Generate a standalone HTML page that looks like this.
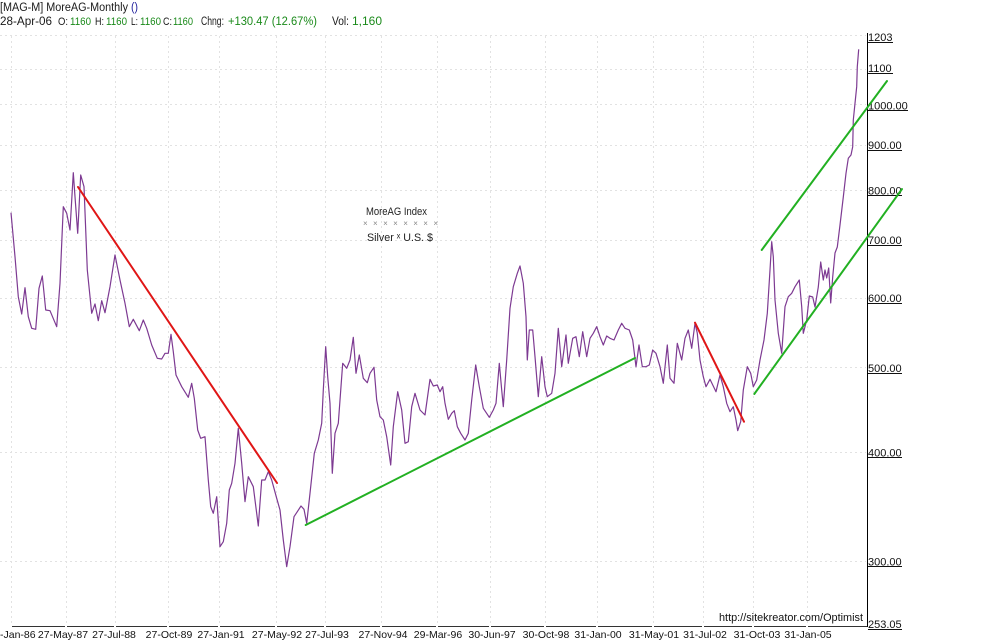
<!DOCTYPE html>
<html>
<head>
<meta charset="utf-8">
<style>
  html, body { margin: 0; padding: 0; background: #ffffff; }
  svg { display: block; }
  text { font-family: "Liberation Sans", Arial, sans-serif; }
</style>
</head>
<body>
<svg width="987" height="642" viewBox="0 0 987 642" xmlns="http://www.w3.org/2000/svg">
  <rect x="0" y="0" width="987" height="642" fill="#ffffff"/>

  <!-- horizontal dotted gridlines -->
  <g stroke="#e2e2e2" stroke-width="1" stroke-dasharray="2,3" fill="none">
    <line x1="0" y1="35.5" x2="866" y2="35.5"/>
    <line x1="0" y1="69.5" x2="866" y2="69.5"/>
    <line x1="0" y1="104.5" x2="866" y2="104.5"/>
    <line x1="0" y1="145.5" x2="866" y2="145.5"/>
    <line x1="0" y1="190.5" x2="866" y2="190.5"/>
    <line x1="0" y1="240.5" x2="866" y2="240.5"/>
    <line x1="0" y1="298.5" x2="866" y2="298.5"/>
    <line x1="0" y1="367.5" x2="866" y2="367.5"/>
    <line x1="0" y1="452.5" x2="866" y2="452.5"/>
    <line x1="0" y1="561.5" x2="866" y2="561.5"/>
  </g>
  <!-- vertical dotted gridlines -->
  <g stroke="#e2e2e2" stroke-width="1" stroke-dasharray="2,3" fill="none">
    <line x1="11.5" y1="36" x2="11.5" y2="625"/>
    <line x1="66.5" y1="36" x2="66.5" y2="625"/>
    <line x1="115.5" y1="36" x2="115.5" y2="625"/>
    <line x1="168.5" y1="36" x2="168.5" y2="625"/>
    <line x1="219.5" y1="36" x2="219.5" y2="625"/>
    <line x1="276.5" y1="36" x2="276.5" y2="625"/>
    <line x1="325.5" y1="36" x2="325.5" y2="625"/>
    <line x1="381.5" y1="36" x2="381.5" y2="625"/>
    <line x1="437.5" y1="36" x2="437.5" y2="625"/>
    <line x1="490.5" y1="36" x2="490.5" y2="625"/>
    <line x1="545.5" y1="36" x2="545.5" y2="625"/>
    <line x1="597.5" y1="36" x2="597.5" y2="625"/>
    <line x1="653.5" y1="36" x2="653.5" y2="625"/>
    <line x1="703.5" y1="36" x2="703.5" y2="625"/>
    <line x1="753.5" y1="36" x2="753.5" y2="625"/>
    <line x1="807.5" y1="36" x2="807.5" y2="625"/>
  </g>

  <!-- header -->
  <g font-size="11.5">
    <text x="0" y="11" fill="#1a1a1a" textLength="128" lengthAdjust="spacingAndGlyphs">[MAG-M] MoreAG-Monthly</text>
    <text x="131" y="11" fill="#1a1a9a" textLength="7" lengthAdjust="spacingAndGlyphs">()</text>
    <text x="0" y="25" fill="#1a1a1a" textLength="52" lengthAdjust="spacingAndGlyphs">28-Apr-06</text>
  </g>
  <g font-size="11">
    <text x="58" y="25" fill="#1a1a1a" textLength="10" lengthAdjust="spacingAndGlyphs">O:</text>
    <text x="70" y="25" fill="#1a8a1a" textLength="21" lengthAdjust="spacingAndGlyphs">1160</text>
    <text x="95" y="25" fill="#1a1a1a" textLength="9" lengthAdjust="spacingAndGlyphs">H:</text>
    <text x="106" y="25" fill="#1a8a1a" textLength="21" lengthAdjust="spacingAndGlyphs">1160</text>
    <text x="131" y="25" fill="#1a1a1a" textLength="7" lengthAdjust="spacingAndGlyphs">L:</text>
    <text x="140" y="25" fill="#1a8a1a" textLength="21" lengthAdjust="spacingAndGlyphs">1160</text>
    <text x="163" y="25" fill="#1a1a1a" textLength="9" lengthAdjust="spacingAndGlyphs">C:</text>
    <text x="173" y="25" fill="#1a8a1a" textLength="20" lengthAdjust="spacingAndGlyphs">1160</text>
  </g>
  <g font-size="11.5">
    <text x="201" y="25" fill="#1a1a1a" textLength="23" lengthAdjust="spacingAndGlyphs">Chng:</text>
    <text x="228" y="25" fill="#1a8a1a" textLength="89" lengthAdjust="spacingAndGlyphs">+130.47 (12.67%)</text>
    <text x="332" y="25" fill="#1a1a1a" textLength="17" lengthAdjust="spacingAndGlyphs">Vol:</text>
    <text x="352" y="25" fill="#1a8a1a" textLength="30" lengthAdjust="spacingAndGlyphs">1,160</text>
  </g>

  <!-- center caption -->
  <text x="366" y="215" font-size="11" fill="#222" textLength="61" lengthAdjust="spacingAndGlyphs">MoreAG Index</text>
  <text x="363" y="226" font-size="8" fill="#888" textLength="75" lengthAdjust="spacing">× × × × × × × ×</text>
  <text x="367" y="241" font-size="11" fill="#222" textLength="66" lengthAdjust="spacingAndGlyphs">Silver ˣ U.S. $</text>

  <!-- axes -->
  <line x1="867.5" y1="33" x2="867.5" y2="627" stroke="#000" stroke-width="1"/>
  <g stroke="#333" stroke-width="1">
    <line x1="12" y1="626.5" x2="65" y2="626.5"/>
    <line x1="67" y1="626.5" x2="114" y2="626.5"/>
    <line x1="116" y1="626.5" x2="167" y2="626.5"/>
    <line x1="169" y1="626.5" x2="218" y2="626.5"/>
    <line x1="220" y1="626.5" x2="275" y2="626.5"/>
    <line x1="277" y1="626.5" x2="324" y2="626.5"/>
    <line x1="326" y1="626.5" x2="380" y2="626.5"/>
    <line x1="382" y1="626.5" x2="436" y2="626.5"/>
    <line x1="438" y1="626.5" x2="489" y2="626.5"/>
    <line x1="491" y1="626.5" x2="544" y2="626.5"/>
    <line x1="546" y1="626.5" x2="596" y2="626.5"/>
    <line x1="598" y1="626.5" x2="652" y2="626.5"/>
    <line x1="654" y1="626.5" x2="702" y2="626.5"/>
    <line x1="704" y1="626.5" x2="752" y2="626.5"/>
    <line x1="754" y1="626.5" x2="806" y2="626.5"/>
    <line x1="808" y1="626.5" x2="867" y2="626.5"/>
  </g>

  <!-- y-axis labels -->
  <g font-size="11" fill="#111">
    <text x="868" y="41">1203</text>
    <text x="868" y="72">1100</text>
    <text x="868" y="109.5">1000.00</text>
    <text x="868" y="149">900.00</text>
    <text x="868" y="194.5">800.00</text>
    <text x="868" y="244">700.00</text>
    <text x="868" y="302">600.00</text>
    <text x="868" y="372">500.00</text>
    <text x="868" y="456.5">400.00</text>
    <text x="868" y="565.5">300.00</text>
    <text x="868" y="628">253.05</text>
  </g>
  <g stroke="#111" stroke-width="1">
    <line x1="868" y1="42.5" x2="893" y2="42.5"/>
    <line x1="868" y1="73.5" x2="893" y2="73.5"/>
    <line x1="868" y1="110.5" x2="908" y2="110.5"/>
    <line x1="868" y1="150.5" x2="902" y2="150.5"/>
    <line x1="868" y1="195.5" x2="902" y2="195.5"/>
    <line x1="868" y1="245.5" x2="902" y2="245.5"/>
    <line x1="868" y1="303.5" x2="902" y2="303.5"/>
    <line x1="868" y1="373.5" x2="902" y2="373.5"/>
    <line x1="868" y1="457.5" x2="902" y2="457.5"/>
    <line x1="868" y1="566.5" x2="902" y2="566.5"/>
    <line x1="868" y1="629.5" x2="902" y2="629.5"/>
  </g>

  <!-- x-axis labels -->
  <g font-size="10.5" fill="#111" text-anchor="middle">
    <text x="0" y="638" text-anchor="start">-Jan-86</text>
    <text x="63" y="638">27-May-87</text>
    <text x="114" y="638">27-Jul-88</text>
    <text x="169" y="638">27-Oct-89</text>
    <text x="221" y="638">27-Jan-91</text>
    <text x="277" y="638">27-May-92</text>
    <text x="327" y="638">27-Jul-93</text>
    <text x="383" y="638">27-Nov-94</text>
    <text x="438" y="638">29-Mar-96</text>
    <text x="492" y="638">30-Jun-97</text>
    <text x="546" y="638">30-Oct-98</text>
    <text x="598" y="638">31-Jan-00</text>
    <text x="654" y="638">31-May-01</text>
    <text x="705" y="638">31-Jul-02</text>
    <text x="757" y="638">31-Oct-03</text>
    <text x="808" y="638">31-Jan-05</text>
  </g>

  <!-- watermark -->
  <text x="719" y="621" font-size="11" fill="#111" textLength="144" lengthAdjust="spacingAndGlyphs">http://sitekreator.com/Optimist</text>

  <!-- price series -->
  <polyline fill="none" stroke="#7d3a92" stroke-width="1.2" stroke-linejoin="round" points="
    11,212.7 15,256.7 18.3,296.7 21.7,314 25,287.7 28.3,316.7 31.7,328.3 35.7,329.3 39,288.3 42.3,276
    45.7,310 50,310.7 56.7,326.7 60,283.3 63.3,206.7 66.7,213.3 70,230 73.3,172.7 75,196.7 77.7,233.3
    80.7,175 84,186.7 87.3,270 91.7,313.3 95,304 98.3,320.7 101.7,300.7 105,312.7 110,286.7 115,255
    120,280 125,303.3 129.3,326.7 133.3,319.3 139.3,330.7 143.3,320 146.7,328.3 151.7,345 157.3,358.3
    161.7,359 165,353.3 168.3,353.3 171,334.3 173.3,351.7 176,375 181.7,386.7 188.3,397.3 191.7,383.3
    194.3,398.3 197.7,430 200.7,438.3 205,436.7 208.3,480 210.7,506.7 213.3,513.3 216.7,496.7 220,546.7
    223.3,541.7 226.7,523.3 229.3,490
    231.7,483.3 235,463.3 238.3,428.3 241.7,463.3 245,501.7 248.3,476.7 253.3,486.7 258.3,526 261.7,480
    265,480 268.3,471.7 271.7,480 276.7,498.3 280,510 283.3,540 286.7,566.7 290,546.7 294,516.7
    297.3,511.7 301,506 304,509.3 306.7,523.3 310,493.3 314.3,453.3 318.3,440 321.7,423.3 323.3,390
    325.7,346.7 327.7,376.7 330,403.3 332.3,473.3 335,433.3 338.3,423.3 342.7,363.3 346.7,368.3 350,360
    353.3,337.3 356,373.3 359.3,355 363.3,378.3 367.3,382.7 370,373.3 374,367.3 376.7,400 380,416.7
    383.3,420 386.7,436.7 390.7,465 393.3,426.7 397.7,391.7 401.7,410 405,443.3 408.3,441.7 411.7,406.7
    415,393.3 420,410 425,415 430,379.3 433.3,386 437.3,385
    440,391.7 442.7,386.7 445,403.3 448.3,419.3 451.7,413.3 454.3,410.7 457.3,426.7 460.7,433.3 465,440
    468.3,433.3 471.7,400 475.7,365 479.3,386.7 483.3,408.3 489.3,417.3 493.3,410 496,403.3 499.3,363.3
    501.7,390 503.3,406.7 506.7,360 510,308.3 513.3,286.7 517.3,273.3 520,266 523.3,283.3 526,316.7
    527.3,360 529.3,330 532.7,330 535,356.7 538.3,396.7 541.7,356.7 545,386.7 547.3,396.7 551.7,393.3
    555,373.3 558.3,328.3 561.7,366.7 566,335 568.3,363.3 572.7,338.3 576,336.7 579.3,356.7 582.7,331.7
    586.7,356.7 590,338.3 593.3,333.3 596.7,326.7 600,336.7 603.3,345 606.7,336 610,338.3 614,340
    618.3,330 621.7,323.3 625,328.3 629.3,330 632.7,340 636,366.7 639,345 642.3,366.7 646,366.7
    649.3,365 652.7,350 656,353.3
    660,366.7 663.3,383.3 667.3,345 670,378.3 674,383.3 677.3,343.3 681.7,360 685,338.3 688.3,330
    691.7,348.3 695,323.3 697.3,333.3 700,360 703.3,376.7 706,386.7 710,379.3 716,391.7 720,375
    723.3,386.7 726.7,403.3 730,411.7 733.3,406.7 736,420 737.7,430.7 740.7,421.7 743.3,390 747.3,366.7
    750.7,373.3 753.3,386.7 756.7,380 760,360 764,340 767.3,313.3 770,270 771.7,241.7 773.3,256.7
    775,300 778.3,333.3 781.7,353.3 785,306.7 788.3,296.7 791.7,293.3 795,286.7 799.3,280 801.7,306.7
    803.3,333.3 806.7,320 809.3,296 812.7,297 815,307 818.3,287 820.7,262 823.3,280 825,270 826.7,278
    828.7,268 830.7,303 832.7,277 835,253 837.3,247 840,225 843.3,197 846,173.3 848.3,158.3 851,155
    852.7,146.7 853.3,120 855,103.3 856.7,86.7 857.3,66.7 858.7,49.3"/>

  <!-- trend lines -->
  <g stroke-width="2" stroke-linecap="round">
    <line x1="78" y1="187" x2="277" y2="483" stroke="#e01616"/>
    <line x1="695" y1="322.7" x2="744" y2="421.7" stroke="#e01616"/>
    <line x1="305.7" y1="525" x2="635" y2="358" stroke="#22b022"/>
    <line x1="754.3" y1="394" x2="902" y2="189" stroke="#22b022"/>
    <line x1="761.7" y1="250" x2="887" y2="81" stroke="#22b022"/>
  </g>
</svg>
</body>
</html>
